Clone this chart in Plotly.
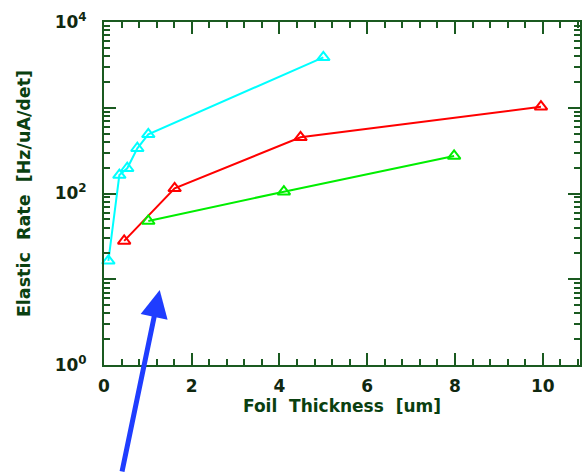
import plotly.graph_objects as go

# Data
cyan_x = [0.1, 0.35, 0.53, 0.76, 1.01, 5.0]
cyan_y = [16.4, 164, 197, 337, 490, 3875]
red_x = [0.46, 1.61, 4.48, 9.96]
red_y = [28, 115, 452, 1028]
green_x = [1.01, 4.10, 7.98]
green_y = [47.8, 105, 274]

y_tickvals = [1, 10, 100, 1000, 10000]
y_ticktext = ["10<sup>0</sup>", "", "10<sup>2</sup>", "", "10<sup>4</sup>"]
x_tickvals = [0, 2, 4, 6, 8, 10]
x_ticktext = ["0", "2", "4", "6", "8", "10"]

AX = "#1a5a20"
TXT = "#0a4010"
FONT = "DejaVu Sans"

fig = go.Figure()
for xs, ys, col in [(cyan_x, cyan_y, "#00ffff"), (red_x, red_y, "#ff0000"), (green_x, green_y, "#00ee00")]:
    fig.add_trace(go.Scatter(
        x=xs, y=ys, mode="lines+markers",
        line=dict(color=col, width=2),
        marker=dict(symbol="triangle-up-open", size=11, color=col, line=dict(width=2, color=col)),
        showlegend=False, cliponaxis=False,
    ))

minor_y = [m * 10 ** k for k in range(0, 4) for m in range(2, 10)]

fig.update_xaxes(
    range=[0, 10.85], tickvals=x_tickvals, ticktext=x_ticktext,
    showline=True, linecolor=AX, linewidth=2, mirror="ticks",
    ticks="inside", ticklen=12, tickwidth=2, tickcolor=AX,
    minor=dict(dtick=0.4, ticks="inside", ticklen=6, tickwidth=2, tickcolor=AX, showgrid=False),
    showgrid=False, zeroline=False, ticklabelstandoff=5,
    tickfont=dict(family=FONT, size=17, color="#102810", weight="bold"),
    title=dict(text="Foil  Thickness  [um]", font=dict(family=FONT, size=17, color=TXT, weight="bold"), standoff=2),
)
fig.update_yaxes(
    type="log", range=[0, 4], tickvals=y_tickvals, ticktext=y_ticktext,
    showline=True, linecolor=AX, linewidth=2, mirror="ticks",
    ticks="inside", ticklen=12, tickwidth=2, tickcolor=AX,
    minor=dict(tickvals=minor_y, ticks="inside", ticklen=6, tickwidth=2, tickcolor=AX, showgrid=False),
    showgrid=False, zeroline=False, ticklabelstandoff=12,
    tickfont=dict(family=FONT, size=17, color="#102810", weight="bold"),
    title=dict(text="Elastic  Rate  [Hz/uA/det]", font=dict(family=FONT, size=17.5, color=TXT, weight="bold"), standoff=20),
)

fig.add_annotation(
    x=1.27, y=0.875, xref="x", yref="y", text="",
    showarrow=True, arrowhead=2, arrowsize=1.1, arrowwidth=5, arrowcolor="#1f3dff",
    axref="pixel", ayref="pixel", ax=-38, ay=192,
)

fig.update_layout(
    width=583, height=473,
    margin=dict(l=104, r=1, t=22, b=108),
    plot_bgcolor="white", paper_bgcolor="white",
    font=dict(family=FONT),
)

fig.write_html("out.html")
